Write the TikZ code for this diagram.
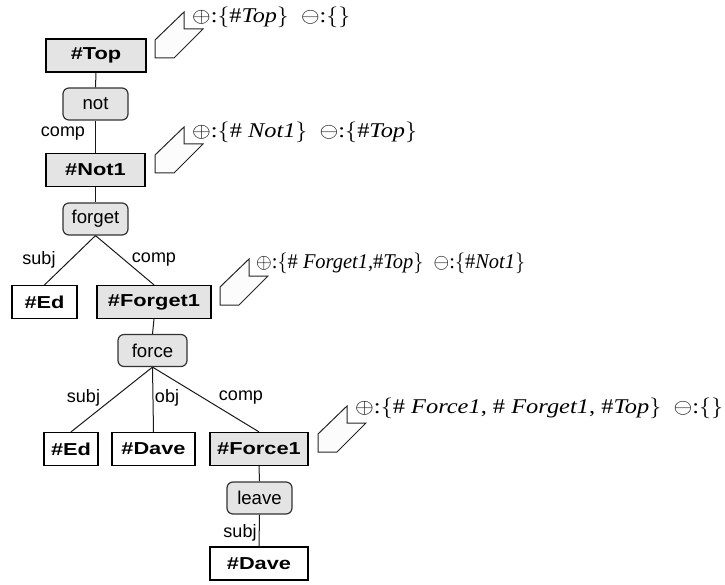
\documentclass[tikz,border=0pt]{standalone}
\usepackage{graphicx}
\usepackage{fontspec}
\setmainfont{Liberation Sans}
\newfontfamily\tnr{Liberation Serif}
\definecolor{boxgray}{HTML}{E4E4E4}
\newcommand{\wb}[1]{\scalebox{1.26}[1]{#1}}
\tikzset{
  x=1pt, y=-1pt,
  ent/.style={draw=black, line width=1.2pt, fill=white, minimum height=33pt, inner sep=0pt, font=\fontsize{17.3}{20}\selectfont\bfseries},
  entg/.style={ent, fill=boxgray},
  pred/.style={draw=black!80, line width=1.2pt, fill=boxgray, rounded corners=6pt, minimum width=65pt, minimum height=32pt, inner sep=0pt, font=\fontsize{18.6}{20}\selectfont},
  lbl/.style={font=\fontsize{18}{20}\selectfont, inner sep=0pt},
  edge/.style={line width=1pt, black!90},
  callout/.style={draw=black!85, line width=1pt, fill=black!1},
  ann/.style={anchor=west, inner sep=0pt, font=\fontsize{21}{24}\selectfont\tnr},
  pics/callout/.style={code={\draw[callout] (0,0) -- (0,-18) -- (29,-46) -- (29,-29) -- (48,-29) -- (19,0) -- cycle;}}
}
\newcommand{\lb}{$\bigl\{$}
\newcommand{\rb}{$\bigr\}$}
\begin{document}
\begin{tikzpicture}
\useasboundingbox (0,0) rectangle (725,585);
% nodes
\node[entg, minimum width=100pt] (top) at (96,55.5) {\wb{\#Top}};
\node[pred] (not) at (95.5,104) {not};
\node[entg, minimum width=99pt] (not1) at (95.5,170) {\wb{\#Not1}};
\node[pred] (forget) at (95.5,219) {forget};
\node[ent, minimum width=65pt] (ed1) at (44.5,302) {\wb{\#Ed}};
\node[entg, minimum width=114pt] (forget1) at (154,302) {\wb{\#Forget1}};
\node[pred, minimum width=69pt] (force) at (152.5,350.5) {force};
\node[ent, minimum width=54pt] (ed2) at (71,449) {\wb{\#Ed}};
\node[ent, minimum width=83pt] (dave1) at (153.5,449) {\wb{\#Dave}};
\node[entg, minimum width=98pt] (force1) at (259,449) {\wb{\#Force1}};
\node[pred] (leave) at (259.5,498) {leave};
\node[ent, minimum width=98pt] (dave2) at (259,563.5) {\wb{\#Dave}};
% edges
\draw[edge] (top.south) -- (not.north);
\draw[edge] (not.south) -- (not1.north);
\draw[edge] (not1.south) -- (forget.north);
\draw[edge] (forget.south) -- (ed1.north);
\draw[edge] (forget.south) -- (forget1.north);
\draw[edge] (forget1.south) -- (force.north);
\draw[edge] (force.south) -- (ed2.north);
\draw[edge] (force.south) -- (dave1.north);
\draw[edge] (force.south) -- (force1.north);
\draw[edge] (force1.south) -- (leave.north);
\draw[edge] (leave.south) -- (dave2.north);
% edge labels
\node[lbl] (lcomp1) at (63,134) {comp};
\node[lbl] (lsubj1) at (39,260) {subj};
\node[lbl] (lcomp2) at (154,260) {comp};
\node[lbl] (lsubj2) at (83.5,398) {subj};
\node[lbl] (lobj) at (167,398) {obj};
\node[lbl] (lcomp3) at (241,398) {comp};
\node[lbl] (lsubj3) at (240,533) {subj};
% callouts
\pic at (155,58) {callout};
\pic at (155,173) {callout};
\pic at (220,305) {callout};
\pic at (318,452) {callout};
\node[ann] (a1) at (192,17) {\resizebox{158pt}{\height}{$\oplus$:\lb\#\textit{Top}\rb~~$\ominus$:\lb\rb}};
\node[ann] (a2) at (192,132) {\resizebox{225pt}{\height}{$\oplus$:\lb\# \textit{Not1}\rb~~$\ominus$:\lb\#\textit{Top}\rb}};
\node[ann] (a3) at (256,263) {\resizebox{269pt}{\height}{$\oplus$:\lb\# \textit{Forget1},\#\textit{Top}\rb~~$\ominus$:\lb\#\textit{Not1}\rb}};
\node[ann] (a4) at (355,408) {\resizebox{368pt}{\height}{$\oplus$:\lb\# \textit{Force1}, \# \textit{Forget1}, \#\textit{Top}\rb~~$\ominus$:\lb\rb}};
\end{tikzpicture}
\end{document}
